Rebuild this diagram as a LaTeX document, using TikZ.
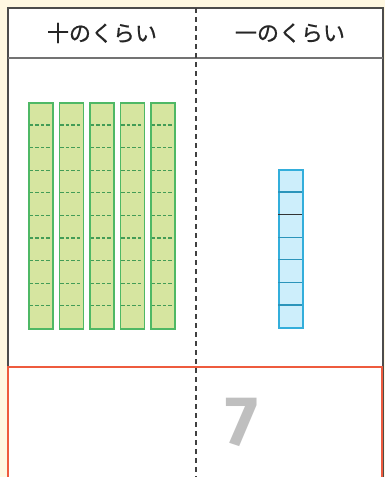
\documentclass[tikz,border=0pt]{standalone}
\usepackage{fontspec}
\newfontfamily\jpfont[FakeBold=0.7]{Noto Sans CJK JP}
\newfontfamily\numfont{Fira Sans}
\usetikzlibrary{positioning}

\definecolor{cream}{HTML}{FFF8E2}
\definecolor{tenfill}{HTML}{D6E5A0}
\definecolor{tendraw}{HTML}{4FB865}
\definecolor{onefill}{HTML}{CDEEFB}
\definecolor{onedraw}{HTML}{33AEDB}
\definecolor{answer}{HTML}{EE5B3E}

\begin{document}
\begin{tikzpicture}[
    x=1pt, y=-1pt,
    frame/.style={draw=black!70, line width=1.6pt},
    divider/.style={draw=black!75, line width=1.6pt, dash pattern=on 5pt off 4pt},
    head/.style={font=\jpfont\fontsize{22}{22}\selectfont, text=black!85},
    tenrod/.style={draw=tendraw, fill=tenfill, line width=1.3pt, minimum width=24pt, minimum height=226pt, inner sep=0pt},
    tenline/.style={draw=tendraw!85!black, line width=1.3pt, dash pattern=on 3.5pt off 2pt},
    onerod/.style={draw=onedraw, fill=onefill, line width=1.3pt, minimum width=24pt, minimum height=158pt, inner sep=0pt},
    oneline/.style={draw=onedraw!85!black, line width=1.1pt},
    answerbox/.style={draw=answer, line width=2.4pt}
  ]
    % page and table
    \fill[cream] (0,0) rectangle (385,477);
    \useasboundingbox (0,0) rectangle (385,477);
    \fill[white] (8,8) rectangle (383,477);
    \draw[frame] (8,477) -- (8,8) -- (383,8) -- (383,477);
    \draw[frame, draw=black!55, line width=1.2pt] (8,58) -- (383,58);
    \draw[answerbox] (8,480) -- (8,367) -- (382,367) -- (382,480);

    \coordinate (top) at (196,8);
    \coordinate (bottom) at (196,477);
    \draw[divider] (top) -- (bottom);

    \node[head] (tens) at (102,33) {十のくらい};
    \node[head] (ones) at (290,33) {一のくらい};

    % ten rods
    \foreach \i in {0,...,4} {
      \node[tenrod] (t\i) at (41+30.5*\i,216) {};
      \foreach \k in {1,...,9}
        \draw[tenline] (t\i.north west) ++(1.5,22.6*\k) -- ++(21,0);
    }

    % one rod
    \node[onerod] (one) at (291,249) {};
    \foreach \k in {1,3,4,5,6}
      \draw[oneline] (one.north west) ++(0,22.6*\k) -- ++(24,0);
    \draw[black!80, line width=1.6pt] (one.north west) ++(0,45.2) -- ++(24,0);

    \node[font=\numfont\bfseries\fontsize{70}{70}\selectfont, text=black!25] (seven) at (242,422) {7};
  \end{tikzpicture}
\end{document}
